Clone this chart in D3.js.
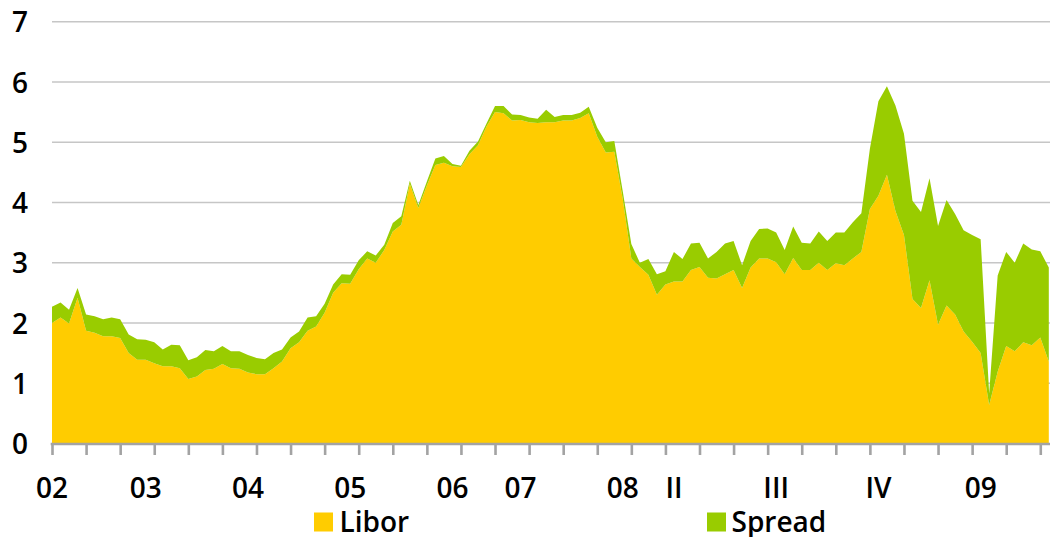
<!DOCTYPE html>
<html>
<head>
<meta charset="utf-8">
<script src="https://cdn.jsdelivr.net/npm/d3@7"></script>
<style>
  html, body { margin: 0; padding: 0; background: #ffffff; }
  svg { display: block; font-family: "Open Sans", "Noto Sans", sans-serif; }
</style>
</head>
<body>
<svg id="chart" width="1050" height="537"></svg>
<script>
// ---- Data ----
const libor = [
  2.00, 2.09, 1.99, 2.42, 1.87, 1.84, 1.78, 1.78, 1.75, 1.50,
  1.39, 1.39, 1.33, 1.28, 1.28, 1.25, 1.07, 1.11, 1.22, 1.24,
  1.32, 1.25, 1.24, 1.18, 1.15, 1.15, 1.25, 1.36, 1.58, 1.68,
  1.87, 1.94, 2.17, 2.50, 2.66, 2.65, 2.89, 3.07, 3.00, 3.21,
  3.52, 3.63, 4.31, 3.91, 4.28, 4.62, 4.66, 4.60, 4.59, 4.80,
  4.95, 5.26, 5.50, 5.48, 5.36, 5.37, 5.33, 5.32, 5.33, 5.33,
  5.36, 5.36, 5.40, 5.48, 5.09, 4.83, 4.84, 4.05, 3.07, 2.93,
  2.80, 2.47, 2.64, 2.69, 2.69, 2.88, 2.93, 2.75, 2.74, 2.81,
  2.88, 2.58, 2.92, 3.07, 3.07, 3.01, 2.81, 3.08, 2.88, 2.88,
  3.00, 2.88, 2.99, 2.96, 3.07, 3.18, 3.89, 4.11, 4.46, 3.86,
  3.46, 2.40, 2.25, 2.71, 1.97, 2.29, 2.14, 1.86, 1.69, 1.50,
  0.64, 1.19, 1.62, 1.53, 1.68, 1.63, 1.76, 1.36
];
const spread = [
  0.27, 0.25, 0.23, 0.16, 0.27, 0.27, 0.28, 0.31, 0.31, 0.31,
  0.34, 0.33, 0.35, 0.28, 0.36, 0.38, 0.31, 0.32, 0.33, 0.29,
  0.30, 0.28, 0.29, 0.29, 0.27, 0.25, 0.25, 0.20, 0.18, 0.18,
  0.22, 0.17, 0.15, 0.14, 0.15, 0.15, 0.15, 0.12, 0.12, 0.09,
  0.14, 0.14, 0.05, 0.05, 0.07, 0.11, 0.11, 0.04, 0.02, 0.06,
  0.06, 0.05, 0.10, 0.12, 0.10, 0.08, 0.08, 0.07, 0.21, 0.09,
  0.09, 0.09, 0.09, 0.11, 0.15, 0.17, 0.18, 0.13, 0.24, 0.07,
  0.26, 0.34, 0.22, 0.49, 0.37, 0.44, 0.40, 0.32, 0.44, 0.51,
  0.48, 0.38, 0.44, 0.49, 0.50, 0.49, 0.40, 0.52, 0.45, 0.44,
  0.52, 0.48, 0.51, 0.54, 0.60, 0.64, 1.00, 1.57, 1.47, 1.75,
  1.68, 1.63, 1.59, 1.69, 1.64, 1.75, 1.67, 1.68, 1.77, 1.89,
  0.19, 1.60, 1.56, 1.47, 1.64, 1.59, 1.43, 1.56
];
// category labels shown on the x axis and the category index they belong to
const xLabelText  = ["02", "03", "04", "05", "06", "07", "08", "II", "III", "IV", "09"];
const xLabelIndex = [0, 11, 23, 35, 47, 55, 67, 73, 85, 97, 109];
const yTicks = [0, 1, 2, 3, 4, 5, 6, 7];
const seriesNames = ["Libor", "Spread"];
const seriesColors = ["#FFCC00", "#99CC00"];

// ---- Layout ----
const svg = d3.select("#chart");
const n = libor.length;
const x = d3.scaleLinear().domain([0, n - 1]).range([52, 1048.8]);
const y = d3.scaleLinear().domain([0, 7]).range([443.5, 21.7]);

const rows = libor.map((v, i) => ({ i: i, Libor: v, Spread: spread[i] }));
const stacked = d3.stack().keys(seriesNames)(rows);

// gridlines
svg.append("g").selectAll("line")
  .data(yTicks.filter(t => t > 0))
  .join("line")
  .attr("x1", 52).attr("x2", 1050)
  .attr("y1", d => y(d)).attr("y2", d => y(d))
  .attr("stroke", "#c6c6c6").attr("stroke-width", 1.6);

// areas
const area = d3.area()
  .x(d => x(d.data.i))
  .y0(d => y(d[0]))
  .y1(d => y(d[1]));

svg.append("g").selectAll("path")
  .data(stacked)
  .join("path")
  .attr("d", area)
  .attr("fill", (d, k) => seriesColors[k]);

// x axis (ticks every 4 categories)
const xAxis = d3.axisBottom(x)
  .tickValues(d3.range(0, n, 4))
  .tickSize(11)
  .tickFormat("");
const gx = svg.append("g").attr("transform", "translate(0,444)").call(xAxis);
gx.select(".domain").remove();
gx.selectAll(".tick line").attr("stroke", "#a3a3a3").attr("stroke-width", 2.6);
svg.append("line")
  .attr("x1", 50.7).attr("x2", 1050)
  .attr("y1", 444).attr("y2", 444)
  .attr("stroke", "#a3a3a3").attr("stroke-width", 2.6);

// x labels
svg.append("g").selectAll("text")
  .data(xLabelText)
  .join("text")
  .attr("x", (d, k) => x(xLabelIndex[k]))
  .attr("y", 498)
  .attr("text-anchor", "middle")
  .attr("font-size", 28)
  .attr("font-weight", 600)
  .attr("fill", "#000")
  .text(d => d);

// y labels
const yAxis = d3.axisLeft(y).tickValues(yTicks).tickFormat(d3.format("d")).tickSize(0).tickPadding(0);
const gy = svg.append("g").attr("transform", "translate(28,0)").call(yAxis);
gy.select(".domain").remove();
gy.selectAll("text")
  .attr("font-size", 28)
  .attr("font-weight", 600)
  .attr("font-family", "\"Open Sans\", \"Noto Sans\", sans-serif")
  .attr("fill", "#000")
  .attr("dy", "0.36em");

// legend
const legendX = [314, 707];
const lg = svg.append("g").selectAll("g")
  .data(seriesNames)
  .join("g")
  .attr("transform", (d, k) => `translate(${legendX[k]},512.5)`);
lg.append("rect")
  .attr("width", 19).attr("height", 19)
  .attr("fill", (d, k) => seriesColors[k]);
lg.append("text")
  .attr("x", (d, k) => k === 0 ? 25.5 : 24.5).attr("y", 19)
  .attr("font-size", 28)
  .attr("font-weight", 600)
  .attr("fill", "#000")
  .text(d => d);
</script>
</body>
</html>
